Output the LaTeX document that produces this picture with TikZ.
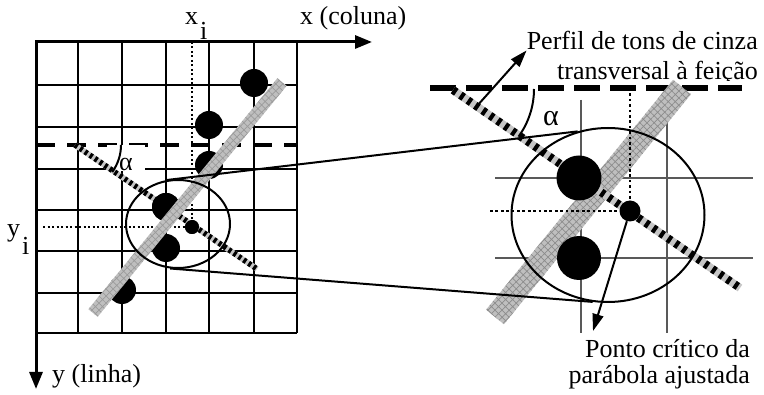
\documentclass[tikz,border=0pt]{standalone}
\usepackage{fontspec}
\setmainfont{Liberation Serif}
\usetikzlibrary{arrows.meta, shapes.geometric, calc, patterns.meta}

\begin{document}
\begin{tikzpicture}[x=1pt,y=-1pt,
font=\fontsize{26}{30}\selectfont,
gridL/.style={line width=1.3pt},
gridR/.style={line width=1.5pt,black!65},
axisline/.style={line width=3pt,line join=miter,{Triangle[length=17pt,width=13pt]}-{Triangle[length=17pt,width=13pt]}},
dashL/.style={line width=4pt,dash pattern=on 19pt off 12pt},
dashR/.style={line width=5.5pt,dash pattern=on 26pt off 10pt},
dotL/.style={line width=2pt,dash pattern=on 2pt off 2.5pt},
dotR/.style={line width=2.7pt,dash pattern=on 2.7pt off 2.7pt},
stripeL/.style={line width=5.5pt,dash pattern=on 3pt off 3pt,preaction={draw=gray!45,line width=5.5pt,solid}},
stripeR/.style={line width=8pt,dash pattern=on 4pt off 5pt,preaction={draw=gray!45,line width=8pt,solid}},
band/.style={pattern={Hatch[angle=45,distance=5pt,line width=0.7pt]},pattern color=gray!90,preaction={fill=gray!50}},
blob/.style={circle,fill,inner sep=0pt},
zoomring/.style={ellipse,draw,line width=2pt,inner sep=0pt},
pointer/.style={line width=2pt,-{Triangle[length=17pt,width=11pt]}},
txt/.style={inner sep=0pt}]

\useasboundingbox (0,0) rectangle (764,395);


\draw[gridL] (78,42)--(78,333) (122,42)--(122,333) (166,42)--(166,333)
(209,42)--(209,333) (254,42)--(254,333) (297,42)--(297,333);
\draw[gridL] (36,85)--(297,85) (36,127)--(297,127) (36,169)--(297,169)
(36,210)--(297,210) (36,251)--(297,251) (36,293)--(297,293) (36,333)--(297,333);

\draw[gridR] (581,100)--(581,333) (667,100)--(667,333);
\draw[gridR] (495,178)--(753,178) (495,258)--(753,258);

\draw[dashL] (36,145)--(297,145);
\draw[dashR] (430,88)--(742,88);

\node[fill=white,minimum width=38pt,minimum height=24pt,inner sep=0pt,
text height=26pt,text depth=0pt] (alphaL) at (126,158) {α};


\node[blob,minimum size=28pt] (d1) at (254,83) {};
\node[blob,minimum size=28pt] (d2) at (209,125) {};
\node[blob,minimum size=28pt] (d3) at (209,165) {};
\node[blob,minimum size=28pt] (d4) at (166,207) {};
\node[blob,minimum size=28pt] (d5) at (166,248) {};
\node[blob,minimum size=28pt] (d6) at (122,290) {};
\node[blob,minimum size=14pt] (dL) at (192,227) {};

\coordinate (xi0) at (192,42);
\coordinate (yi0) at (43,227);
\draw[dotL] (xi0)--(dL);
\draw[dotL] (yi0)--(dL);

\coordinate (profL1) at (75,145);
\coordinate (profL2) at (257,269);
\draw[stripeL] (profL1)--(profL2);
\node[blob,minimum size=28pt] at (d4) {};
\node[blob,minimum size=14pt] at (dL) {};

\coordinate (bandL1) at (93,313);
\coordinate (bandL2) at (282,82);
\path[band,opacity=0.7] ($(bandL1)!6pt!90:(bandL2)$) -- ($(bandL1)!6pt!-90:(bandL2)$)
-- ($(bandL2)!6pt!90:(bandL1)$) -- ($(bandL2)!6pt!-90:(bandL1)$) -- cycle;

\draw[line width=2pt] (121,145) arc[start angle=0,end angle=36,radius=46];


\coordinate (bandR1) at (495,317);
\coordinate (bandR2) at (682,87);
\path[band] ($(bandR1)!11.5pt!90:(bandR2)$) -- ($(bandR1)!11.5pt!-90:(bandR2)$)
-- ($(bandR2)!11.5pt!90:(bandR1)$) -- ($(bandR2)!11.5pt!-90:(bandR1)$) -- cycle;

\coordinate (profR1) at (453,90);
\coordinate (profR2) at (740,288);
\draw[stripeR] (profR1)--(profR2);

\node[blob,minimum size=45pt] (dR1) at (579,178) {};
\node[blob,minimum size=44pt] (dR2) at (579,258) {};
\node[blob,minimum size=21pt] (dR) at (630,211) {};

\coordinate (xr0) at (630,88);
\coordinate (yr0) at (490,211);
\draw[dotR] (xr0)--(dR);
\draw[dotR] (yr0)--(dR);

\draw[line width=2pt] (534,89) arc[start angle=0,end angle=36,radius=81];
\node[font=\fontsize{30}{30}\selectfont] (alphaR) at (551,119) {α};


\node[zoomring,minimum width=104pt,minimum height=88pt] (cL) at (178,224) {};
\node[zoomring,minimum width=193pt,minimum height=174pt] (cR) at (608,215) {};

\draw[line width=2pt] (cL.104)--(cR.110);
\draw[line width=2pt] (cL.260)--(cR.260);


\coordinate (orig) at (36,42);
\coordinate (xend) at (372,42);
\coordinate (yend) at (36,389);
\draw[axisline] (yend)--(orig)--(xend);

\node[txt,anchor=base west] (xcol) at (300,25) {x (coluna)};
\node[txt,anchor=base west] (ylin) at (52,383) {y (linha)};
\node[txt,anchor=base west] (xi) at (185,25) {x\kern2pt\raisebox{-15pt}{i}};
\node[txt,anchor=base west] (yi) at (7,237) {y\kern2pt\raisebox{-18pt}{i}};


\node[txt,anchor=base east] (perfil) at (758,50) {Perfil de tons de cinza};
\begin{scope}
\clip (0,0) rectangle (764,81);
\node[txt,anchor=base east] (transv) at (758,80) {transversal à feição};
\end{scope}

\coordinate (pfoot) at (477,106);
\draw[pointer] (pfoot)--(perfil.south west);

\node[txt,anchor=base east] (ponto) at (750,358) {Ponto crítico da};
\node[txt,anchor=base east] (parab) at (750,384) {parábola ajustada};

\coordinate (ptip) at (593,331);
\draw[pointer] (dR)--(ptip);

\end{tikzpicture}
\end{document}
